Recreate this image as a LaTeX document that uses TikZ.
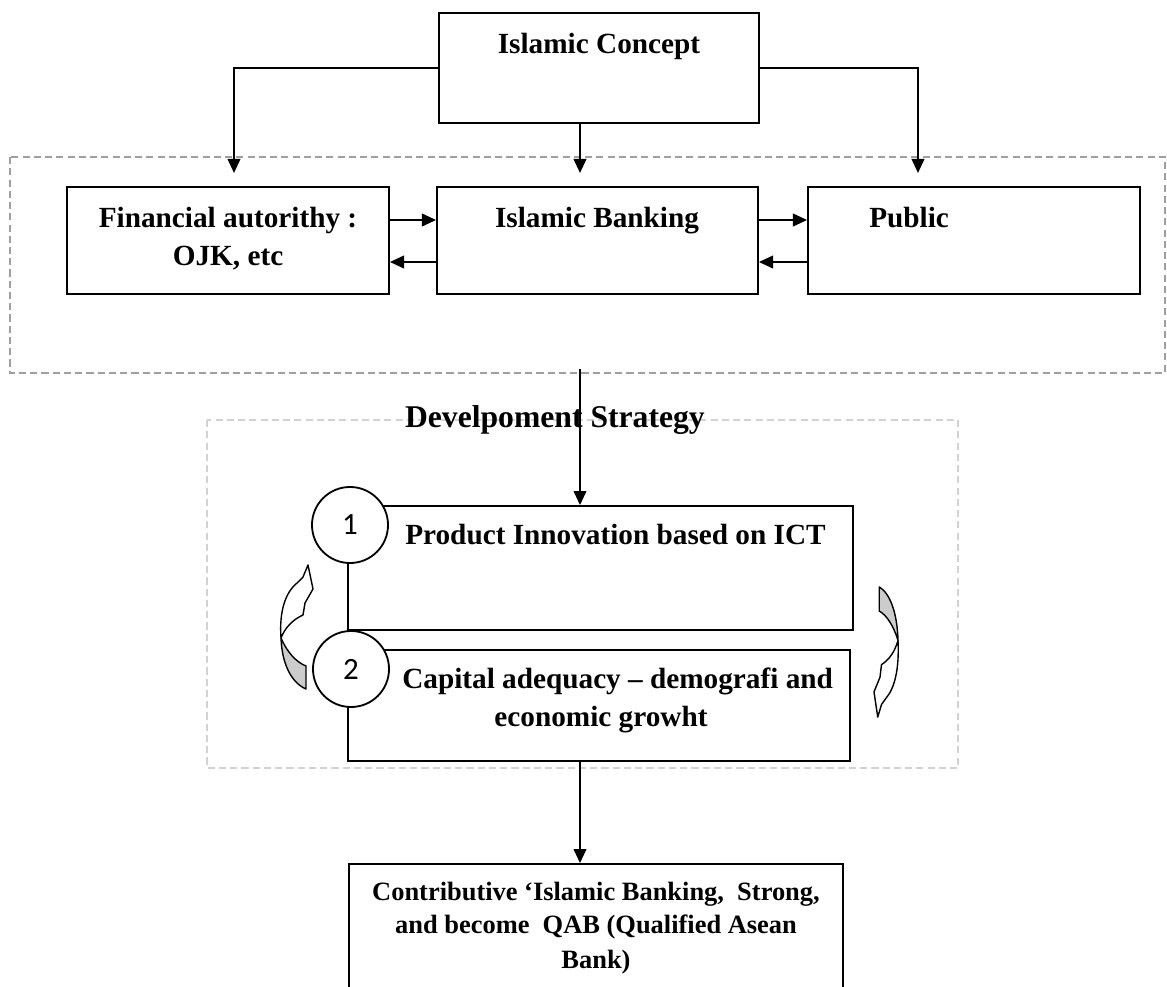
\documentclass[tikz,border=0pt]{standalone}
\usepackage{fontspec}
\setmainfont{Liberation Serif}
\newfontfamily\numfont{Carlito}
\usetikzlibrary{arrows.meta}

\tikzset{
  box/.style={draw, rectangle, line width=1.3pt, inner sep=0pt},
  txt/.style={font=\fontsize{20.8}{27}\selectfont\bfseries, inner sep=0pt},
  smalltxt/.style={font=\fontsize{18.8}{24}\selectfont\bfseries, inner sep=0pt},
  arr/.style={line width=1.3pt, -{Triangle[length=10pt,width=9pt]}},
  num/.style={draw, circle, fill=white, line width=1.3pt, minimum size=1.9cm, inner sep=0pt, font=\numfont\fontsize{22}{22}\selectfont},
  outerframe/.style={draw=gray!75, line width=1pt, dash pattern=on 5pt off 3pt},
  innerframe/.style={draw=gray!35, line width=0.9pt, dash pattern=on 5pt off 3pt},
  pics/curlarrow/.style={code={
    \filldraw[fill=gray!40, line width=1pt, line join=round]
      (9,39) -- (9,62) .. controls (-5,56) and (-15,38) .. (-16,11)
      .. controls (-10,25) and (-1,35) .. (9,39) -- cycle;
    \filldraw[fill=white, line width=1pt, line join=round]
      (-16,11) .. controls (-18,-17) and (-11,-35) .. (0,-44)
      -- (6,-50) -- (11,-62) -- (16,-38) -- (8,-24) -- (6,-12)
      .. controls (-5,-7) and (-12,1) .. (-16,11) -- cycle;
  }}
}

\begin{document}
\begin{tikzpicture}[x=0.025cm, y=-0.025cm]
  \useasboundingbox (0,0) rectangle (1167,987);
  % dashed frames
  \draw[outerframe] (10,157) rectangle (1165,373);
  \draw[innerframe] (207,420) rectangle (958,768);
  % boxes
  \node[box, minimum width=8cm, minimum height=2.75cm] (concept) at (599,68) {};
  \node[box, minimum width=8.05cm, minimum height=2.675cm] (fin) at (228,240.5) {};
  \node[box, minimum width=8.025cm, minimum height=2.675cm] (bank) at (597.5,240.5) {};
  \node[box, minimum width=8.3cm, minimum height=2.675cm] (pub) at (974,240.5) {};
  \node[box, minimum width=12.625cm, minimum height=3.1cm] (prod) at (600.5,568) {};
  \node[box, minimum width=12.55cm, minimum height=2.775cm] (cap) at (599,705.5) {};
  \node[box, minimum width=12.35cm, minimum height=3.4cm] (goal) at (596,932) {};
  % texts
  \node[txt, anchor=base] at (599,53) {Islamic Concept};
  \node[txt, anchor=base] at (228,227) {Financial autorithy :};
  \node[txt, anchor=base] at (228,265) {OJK, etc};
  \node[txt, anchor=base] at (597,227) {Islamic Banking};
  \node[txt, anchor=base west] at (869,227) {Public};
  \node[txt, anchor=base east, font=\fontsize{22.5}{27}\selectfont\bfseries] (strategy) at (705,427) {Develpoment Strategy};
  \node[txt, anchor=base west] at (405,544) {Product Innovation based on ICT};
  \node[txt, anchor=base west] at (402,688) {Capital adequacy – demografi and};
  \node[txt, anchor=base] at (601,726) {economic growht};
  \node[smalltxt, anchor=base] at (596,900) {Contributive ‘Islamic Banking,~ Strong,};
  \node[smalltxt, anchor=base] at (596,933) {and become~ QAB (Qualified Asean};
  \node[smalltxt, anchor=base] at (596,968) {Bank)};
  % numbered circles
  \node[num] (one) at (350,525) {1};
  \node[num] (two) at (351,669) {2};
  % connectors from the concept
  \coordinate (lft) at (234,173);
  \coordinate (mid) at (580,173);
  \coordinate (rgt) at (918,173);
  \draw[arr] (concept.west) -| (lft);
  \draw[arr] (concept.south -| mid) -- (mid);
  \draw[arr] (concept.east) -| (rgt);
  % two way links
  \coordinate (up) at (0,220);
  \coordinate (dn) at (0,262);
  \draw[arr] (fin.east |- up) -- (bank.west |- up);
  \draw[arr] (bank.west |- dn) -- (fin.east |- dn);
  \draw[arr] (bank.east |- up) -- (pub.west |- up);
  \draw[arr] (pub.west |- dn) -- (bank.east |- dn);
  % strategy flow
  \coordinate (strat) at (580,369);
  \draw[arr] (strat) -- (strat |- prod.north);
  \draw[arr] (cap.south -| strat) -- (goal.north -| strat);
  % curved arrows
  \pic at (297,627) {curlarrow};
  \pic[rotate=180, xscale=0.75, yscale=1.05] at (886,652) {curlarrow};
\end{tikzpicture}
\end{document}
